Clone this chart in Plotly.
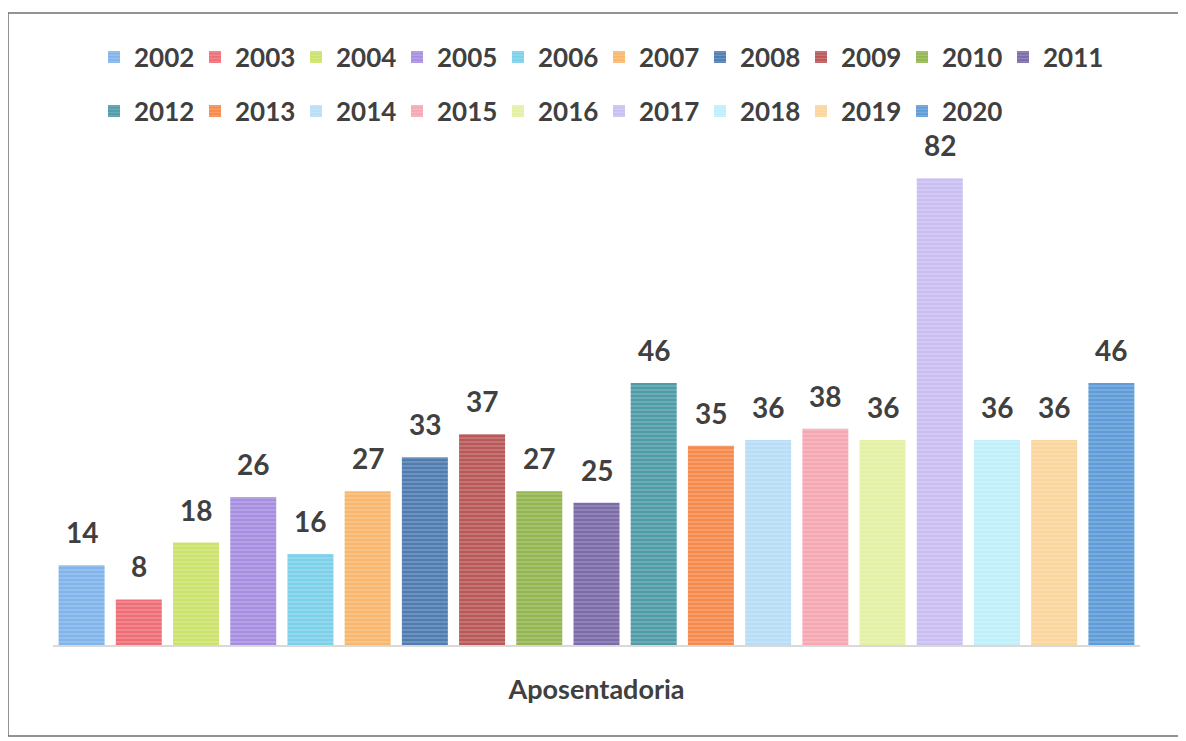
import plotly.graph_objects as go

axis_title = "Aposentadoria"
years = ["2002", "2003", "2004", "2005", "2006", "2007", "2008", "2009", "2010", "2011",
         "2012", "2013", "2014", "2015", "2016", "2017", "2018", "2019", "2020"]
values = [14, 8, 18, 26, 16, 27, 33, 37, 27, 25, 46, 35, 36, 38, 36, 82, 36, 36, 46]
colors = ["#80B4EA", "#EE6E78", "#CBE26C", "#A68FE0", "#7CD0EA", "#F9B76E", "#4F7DB0",
          "#B85858", "#94B652", "#7B6BA8", "#4F9BA6", "#F58A4C", "#B8DDF6", "#F5A8B2",
          "#E3F1A4", "#CABEF3", "#C0EFFA", "#FAD59C", "#5F9CD8"]

TEXT = "#404040"
FONT = "Lato"

fig = go.Figure()
for i, (yr, v, c) in enumerate(zip(years, values, colors)):
    fig.add_trace(go.Bar(
        name=yr, x=[yr], y=[v],
        legend="legend" if i < 10 else "legend2",
        marker=dict(color=c, line=dict(width=0),
                    pattern=dict(shape="-", fgcolor="rgba(255,255,255,0.55)",
                                 size=4, solidity=0.3)),
        hoverinfo="name+y",
    ))
    # category index i on the category axis
    fig.add_annotation(x=i, y=v, xref="x", yref="y", text=str(v),
                       showarrow=False, yanchor="bottom", yshift=14,
                       font=dict(family=FONT, size=28, color=TEXT, weight="bold"))

W, H = 1186, 741
OFF = 8  # page body margin in the browser
# intended on-screen plot box: x 53..1140, y 144..645
ml, mr = 53 - OFF, W - 1140 + OFF
mt, mb = 144 - OFF, H - 645 + OFF
pw, ph = W - ml - mr, H - mt - mb


def px_x(p):
    return (p - OFF - ml) / pw


def px_y(p):
    return 1 - (p - OFF - mt) / ph


legend_common = dict(orientation="h", xanchor="left", yanchor="middle",
                     entrywidth=56, itemwidth=30, traceorder="normal",
                     font=dict(family=FONT, size=26, color=TEXT, weight="bold"),
                     bgcolor="rgba(0,0,0,0)")

fig.update_layout(
    width=W, height=H,
    margin=dict(l=ml, r=mr, t=mt, b=mb, autoexpand=False),
    barmode="overlay", bargap=0.196,
    plot_bgcolor="white", paper_bgcolor="white",
    font=dict(family=FONT, color=TEXT),
    showlegend=True,
    legend=dict(x=px_x(94), y=px_y(57), **legend_common),
    legend2=dict(x=px_x(94), y=px_y(111), **legend_common),
    xaxis=dict(type="category", categoryorder="array", categoryarray=years,
               range=[-0.5, len(years) - 0.5],
               showline=True, linecolor="#D9D9D9", linewidth=1.5, ticks="",
               showticklabels=False, showgrid=False, zeroline=False,
               title=dict(text=axis_title, standoff=34,
                          font=dict(family=FONT, size=27, color=TEXT, weight="bold"))),
    yaxis=dict(range=[0, 88], visible=False, showgrid=False, zeroline=False),
    shapes=[dict(type="rect", xref="paper", yref="paper",
                 x0=px_x(8), x1=px_x(1179),
                 y0=px_y(736), y1=px_y(13),
                 line=dict(color="#707070", width=1.5), fillcolor="rgba(0,0,0,0)",
                 layer="below")],
)

fig.write_html("out.html")
